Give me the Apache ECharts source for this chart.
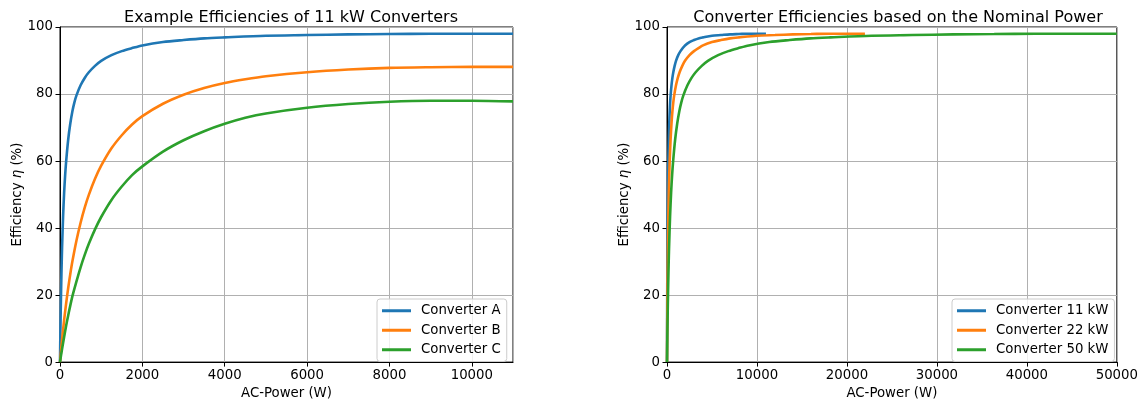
<!DOCTYPE html>
<html>
<head>
<meta charset="utf-8">
<script src="https://cdn.jsdelivr.net/npm/echarts@6/dist/echarts.min.js"></script>
<style>
html,body{margin:0;padding:0;background:#fff;}
#c{width:1141px;height:405px;}
</style>
</head>
<body>
<div id="c"></div>
<script>
// ---- data ----
const powerA = [0, 5, 10, 20, 30, 40, 50, 75, 100, 125, 150, 200, 250, 300, 350, 400, 500, 600, 700, 850, 1000, 1250, 1500, 1750, 2000, 2500, 3000, 3500, 4000, 5000, 6000, 7000, 8000, 9000, 10000, 11000];
const effA   = [0, 4.9, 9.5, 17, 23.5, 29, 34, 43.5, 50.5, 55.8, 60, 66.5, 71.2, 74.8, 77.5, 79.6, 82.6, 84.8, 86.5, 88.4, 89.9, 91.6, 92.8, 93.7, 94.5, 95.5, 96.1, 96.6, 96.9, 97.4, 97.6, 97.8, 97.9, 98.0, 98.0, 98.0];
const powerB = [0, 25, 50, 100, 150, 200, 250, 300, 400, 500, 600, 700, 850, 1000, 1250, 1500, 1750, 2000, 2500, 3000, 3500, 4000, 4500, 5000, 6000, 7000, 8000, 9000, 10000, 11000];
const effB   = [0, 3.4, 6.7, 12.5, 17.6, 22.2, 26.3, 30.0, 36.3, 41.6, 46.1, 49.9, 54.7, 58.6, 63.8, 67.7, 70.9, 73.4, 77.1, 79.8, 81.8, 83.3, 84.4, 85.3, 86.5, 87.3, 87.8, 88.0, 88.1, 88.1];
const powerC = [0, 25, 50, 100, 150, 200, 300, 400, 500, 600, 700, 850, 1000, 1250, 1500, 1750, 2000, 2500, 3000, 3500, 4000, 4500, 5000, 6000, 7000, 8000, 9000, 10000, 11000];
const effC   = [0, 2.0, 3.9, 7.5, 10.9, 14.0, 19.6, 24.1, 28.3, 32.0, 35.3, 39.6, 43.3, 48.4, 52.4, 55.8, 58.4, 62.8, 66.2, 68.9, 71.1, 72.9, 74.2, 75.9, 77.0, 77.7, 78.0, 78.0, 77.8];

const power11 = [0, 5, 10, 20, 30, 40, 50, 75, 100, 125, 150, 200, 250, 300, 350, 400, 500, 600, 700, 850, 1000, 1250, 1500, 1750, 2000, 2500, 3000, 3500, 4000, 5000, 6000, 7000, 8000, 9000, 10000, 11000];
const eff11   = [0, 4.9, 9.5, 17, 23.5, 29, 34, 43.5, 50.5, 55.8, 60, 66.5, 71.2, 74.8, 77.5, 79.6, 82.6, 84.8, 86.5, 88.4, 89.9, 91.6, 92.8, 93.7, 94.5, 95.5, 96.1, 96.6, 96.9, 97.4, 97.6, 97.8, 97.9, 98.0, 98.0, 98.0];
const power22 = [0, 10, 20, 40, 60, 80, 100, 150, 200, 250, 300, 400, 500, 600, 700, 800, 1000, 1200, 1400, 1700, 2000, 2500, 3000, 3500, 4000, 5000, 6000, 7000, 8000, 10000, 12000, 14000, 16000, 18000, 20000, 22000];
const eff22   = [0, 4.9, 9.5, 17, 23.5, 29, 34, 43.5, 50.5, 55.8, 60, 66.5, 71.2, 74.8, 77.5, 79.6, 82.6, 84.8, 86.5, 88.4, 89.9, 91.6, 92.8, 93.7, 94.5, 95.5, 96.1, 96.6, 96.9, 97.4, 97.6, 97.8, 97.9, 98.0, 98.0, 98.0];
const power50 = [0, 23, 45, 91, 136, 182, 227, 341, 455, 568, 682, 909, 1136, 1364, 1591, 1818, 2273, 2727, 3182, 3864, 4545, 5682, 6818, 7955, 9091, 11364, 13636, 15909, 18182, 22727, 27273, 31818, 36364, 40909, 45455, 50000];
const eff50   = [0, 4.9, 9.5, 17, 23.5, 29, 34, 43.5, 50.5, 55.8, 60, 66.5, 71.2, 74.8, 77.5, 79.6, 82.6, 84.8, 86.5, 88.4, 89.9, 91.6, 92.8, 93.7, 94.5, 95.5, 96.1, 96.6, 96.9, 97.4, 97.6, 97.8, 97.9, 98.0, 98.0, 98.0];

const titleLeft  = 'Example Efficiencies of 11 kW Converters';
const titleRight = 'Converter Efficiencies based on the Nominal Power';
const namesLeft  = ['Converter A', 'Converter B', 'Converter C'];
const namesRight = ['Converter 11 kW', 'Converter 22 kW', 'Converter 50 kW'];
const xName = 'AC-Power (W)';

// ---- chart ----
const FONT = 'DejaVu Sans';
const FS = 13.3;
const colors = ['#1f77b4', '#ff7f0e', '#2ca02c'];
const pairs = (xs, ys) => xs.map((x, i) => [x, ys[i]]);

function xAxis(gi, max, interval, showMax) {
  return {
    type: 'value', gridIndex: gi, min: 0, max: max, interval: interval,
    name: xName, nameLocation: 'middle', nameGap: 23.5,
    nameTextStyle: {fontFamily: FONT, fontSize: FS, color: '#000'},
    axisLine: {show: true, onZero: false, lineStyle: {color: '#000', width: 1}},
    axisTick: {show: true, length: 4.5, lineStyle: {color: '#000', width: 1}},
    axisLabel: {fontFamily: FONT, fontSize: FS, color: '#000', margin: 7, showMaxLabel: showMax,
                formatter: v => String(v)},
    splitLine: {show: true, lineStyle: {color: '#b0b0b0', width: 1}}
  };
}
function yAxis(gi) {
  return {
    type: 'value', gridIndex: gi, min: 0, max: 100, interval: 20,
    name: '{a|Efficiency }{b|η}{a| (%)}', nameLocation: 'middle', nameGap: 35, nameRotate: 90,
    nameTextStyle: {fontFamily: FONT, fontSize: FS, color: '#000',
      rich: {a: {fontFamily: FONT, fontSize: FS, color: '#000'},
             b: {fontFamily: FONT, fontSize: FS, color: '#000', fontStyle: 'italic'}}},
    axisLine: {show: true, lineStyle: {color: '#000', width: 1}},
    axisTick: {show: true, length: 4.5, lineStyle: {color: '#000', width: 1}},
    axisLabel: {fontFamily: FONT, fontSize: FS, color: '#000', margin: 7, formatter: v => String(v)},
    splitLine: {show: true, lineStyle: {color: '#b0b0b0', width: 1}}
  };
}
function line(name, data, ci, gi) {
  return {
    type: 'line', name: name, data: data, xAxisIndex: gi, yAxisIndex: gi,
    showSymbol: false, symbol: 'none', smooth: 0.3, clip: true,
    lineStyle: {color: colors[ci], width: 2.6}, itemStyle: {color: colors[ci]},
    animation: false
  };
}
function legend(names, left) {
  return {
    data: names, orient: 'vertical', left: left, top: 299,
    icon: 'rect', itemWidth: 29, itemHeight: 3, itemGap: 4,
    padding: [4, 6, 4, 5],
    backgroundColor: 'rgba(255,255,255,0.8)', borderColor: '#cccccc', borderWidth: 1, borderRadius: 3,
    textStyle: {fontFamily: FONT, fontSize: FS, color: '#000', lineHeight: 15.5, padding: [0, 0, 0, 5]}
  };
}

const chart = echarts.init(document.getElementById('c'), null, {renderer: 'canvas'});
chart.setOption({
  animation: false,
  backgroundColor: '#fff',
  title: [
    {text: titleLeft, left: 286, top: 5, textAlign: 'center',
     textStyle: {fontFamily: FONT, fontSize: 16, fontWeight: 'normal', color: '#000'}},
    {text: titleRight, left: 893, top: 5, textAlign: 'center',
     textStyle: {fontFamily: FONT, fontSize: 16, fontWeight: 'normal', color: '#000'}}
  ],
  grid: [
    {left: 60, right: 628, top: 27, bottom: 37, show: true, borderColor: '#000', borderWidth: 1, containLabel: false},
    {left: 667, right: 22, top: 27, bottom: 37, show: true, borderColor: '#000', borderWidth: 1, containLabel: false}
  ],
  xAxis: [xAxis(0, 11000, 2000, false), xAxis(1, 50000, 10000, true)],
  yAxis: [yAxis(0), yAxis(1)],
  legend: [legend(namesLeft, 377), legend(namesRight, 952)],
  series: [
    line(namesLeft[0], pairs(powerA, effA), 0, 0),
    line(namesLeft[1], pairs(powerB, effB), 1, 0),
    line(namesLeft[2], pairs(powerC, effC), 2, 0),
    line(namesRight[0], pairs(power11, eff11), 0, 1),
    line(namesRight[1], pairs(power22, eff22), 1, 1),
    line(namesRight[2], pairs(power50, eff50), 2, 1)
  ]
});
</script>
</body>
</html>
